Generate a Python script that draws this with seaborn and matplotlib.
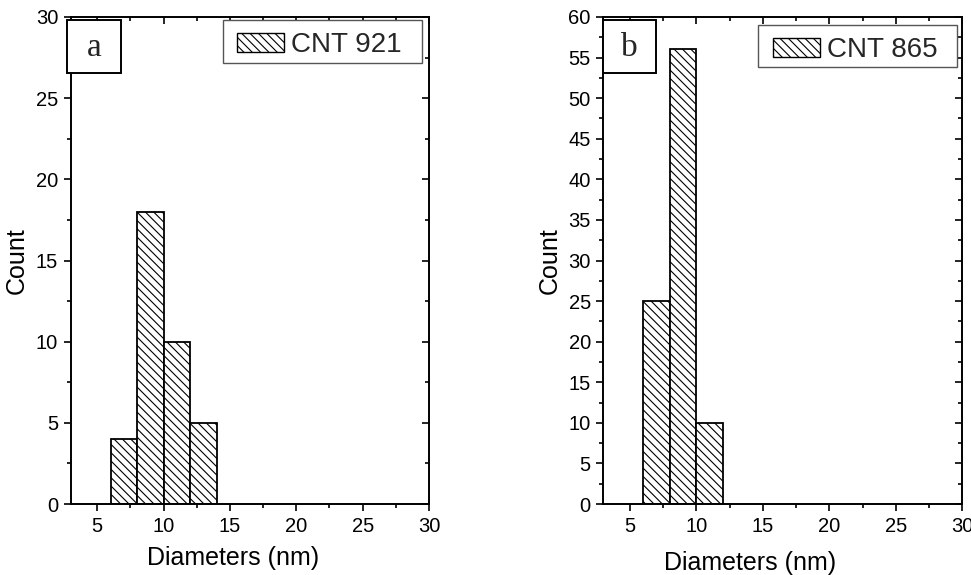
import numpy as np
import matplotlib
matplotlib.use("Agg")
import matplotlib.pyplot as plt
import matplotlib.patches as mpatches
from matplotlib.ticker import MultipleLocator
import seaborn as sns

# Diameter histograms of the two nanotube samples
bin_edges_921 = [6, 8, 10, 12, 14]
counts_921 = [4, 18, 10, 5]
bin_edges_865 = [6, 8, 10, 12]
counts_865 = [25, 56, 10]
sample_labels = ["CNT 921", "CNT 865"]
panel_tags = ["a", "b"]
x_limits = (3, 30)
y_limits = [(0, 30), (0, 60)]

sns.set_theme(style="ticks")
plt.rcParams["font.family"] = ["Liberation Sans", "DejaVu Sans"]
plt.rcParams["hatch.linewidth"] = 0.8

W, H = 971, 575
fig = plt.figure(figsize=(W / 100, H / 100), dpi=100)
fig.patch.set_facecolor("white")

HATCH = "\\\\\\\\"


def px_box(x0, y0, x1, y1):
    return [x0 / W, 1 - y1 / H, (x1 - x0) / W, (y1 - y0) / H]


def px_rect(x0, y0, x1, y1, **kw):
    return mpatches.Rectangle((x0 / W, 1 - y1 / H), (x1 - x0) / W, (y1 - y0) / H,
                              transform=fig.transFigure, **kw)


axes_px = [(70.7, 17, 429, 504), (603.3, 17, 962.3, 504)]
panels = [(bin_edges_921, counts_921), (bin_edges_865, counts_865)]
legend_frames = [(223, 20, 422, 62.7), (758, 25, 957, 66.7)]
legend_centers = [(319.5, 45.5), (855, 50)]
xlabel_pos = [(0.453, -0.086), (0.409, -0.096)]
tag_boxes = [(67, 20, 121, 73), (602.7, 20, 656, 72.7)]

for i, ((edges, counts), (x0, y0, x1, y1)) in enumerate(zip(panels, axes_px)):
    ax = fig.add_axes(px_box(x0, y0, x1, y1))
    centers = [(a + b) / 2 for a, b in zip(edges[:-1], edges[1:])]
    sns.histplot(x=centers, weights=counts, bins=edges, ax=ax,
                 color="white", edgecolor="black", linewidth=1.3, alpha=1)
    for p in ax.patches:
        p.set_hatch(HATCH)
        p.set_facecolor("white")
        p.set_edgecolor("black")

    ax.set_xlim(*x_limits)
    ax.set_ylim(*y_limits[i])
    ax.xaxis.set_major_locator(MultipleLocator(5))
    ax.xaxis.set_minor_locator(MultipleLocator(2.5))
    ax.yaxis.set_major_locator(MultipleLocator(5))
    ax.yaxis.set_minor_locator(MultipleLocator(2.5))

    for s in ax.spines.values():
        s.set_visible(True)
        s.set_linewidth(1.4)
        s.set_color("black")

    ax.tick_params(which="both", direction="out", top=True, right=True,
                   labeltop=False, labelright=False, width=1.2, color="black",
                   labelsize=14.5, labelcolor="black")
    ax.tick_params(which="major", length=5, pad=4)
    ax.tick_params(which="minor", length=3)
    # mirrored ticks on top and right point inward
    for t in ax.xaxis.get_major_ticks() + ax.xaxis.get_minor_ticks():
        t.tick2line.set_marker(3)
    for t in ax.yaxis.get_major_ticks() + ax.yaxis.get_minor_ticks():
        t.tick2line.set_marker(0)

    ax.set_xlabel("Diameters (nm)", fontsize=18, color="black")
    ax.set_ylabel("Count", fontsize=18, color="black")
    ax.xaxis.set_label_coords(*xlabel_pos[i])
    ax.yaxis.set_label_coords(-0.117, 0.5)

    # legend frame drawn as its own box, contents placed inside it
    ax.add_patch(px_rect(*legend_frames[i], facecolor="white",
                         edgecolor="#555555", linewidth=1.0, zorder=4,
                         clip_on=False))
    handle = mpatches.Patch(facecolor="white", edgecolor="black",
                            hatch=HATCH, linewidth=1.0)
    lcx, lcy = legend_centers[i]
    leg = ax.legend(handles=[handle], labels=[sample_labels[i]],
                    loc="center", bbox_to_anchor=(lcx / W, 1 - lcy / H),
                    bbox_transform=fig.transFigure,
                    borderaxespad=0, fontsize=20, frameon=False,
                    borderpad=0, handlelength=1.7, handleheight=0.65,
                    handletextpad=0.25)
    leg.set_zorder(6)

    bx0, by0, bx1, by1 = tag_boxes[i]
    fig.patches.append(px_rect(bx0, by0, bx1, by1, facecolor="white",
                               edgecolor="black", linewidth=1.4, zorder=5))
    fig.text((bx0 + bx1) / 2 / W, 1 - ((by0 + by1) / 2 + 1) / H, panel_tags[i],
             ha="center", va="center", fontsize=24,
             family=["Liberation Serif", "DejaVu Serif"], zorder=6)

fig.savefig("out.png", dpi=100, facecolor="white")
